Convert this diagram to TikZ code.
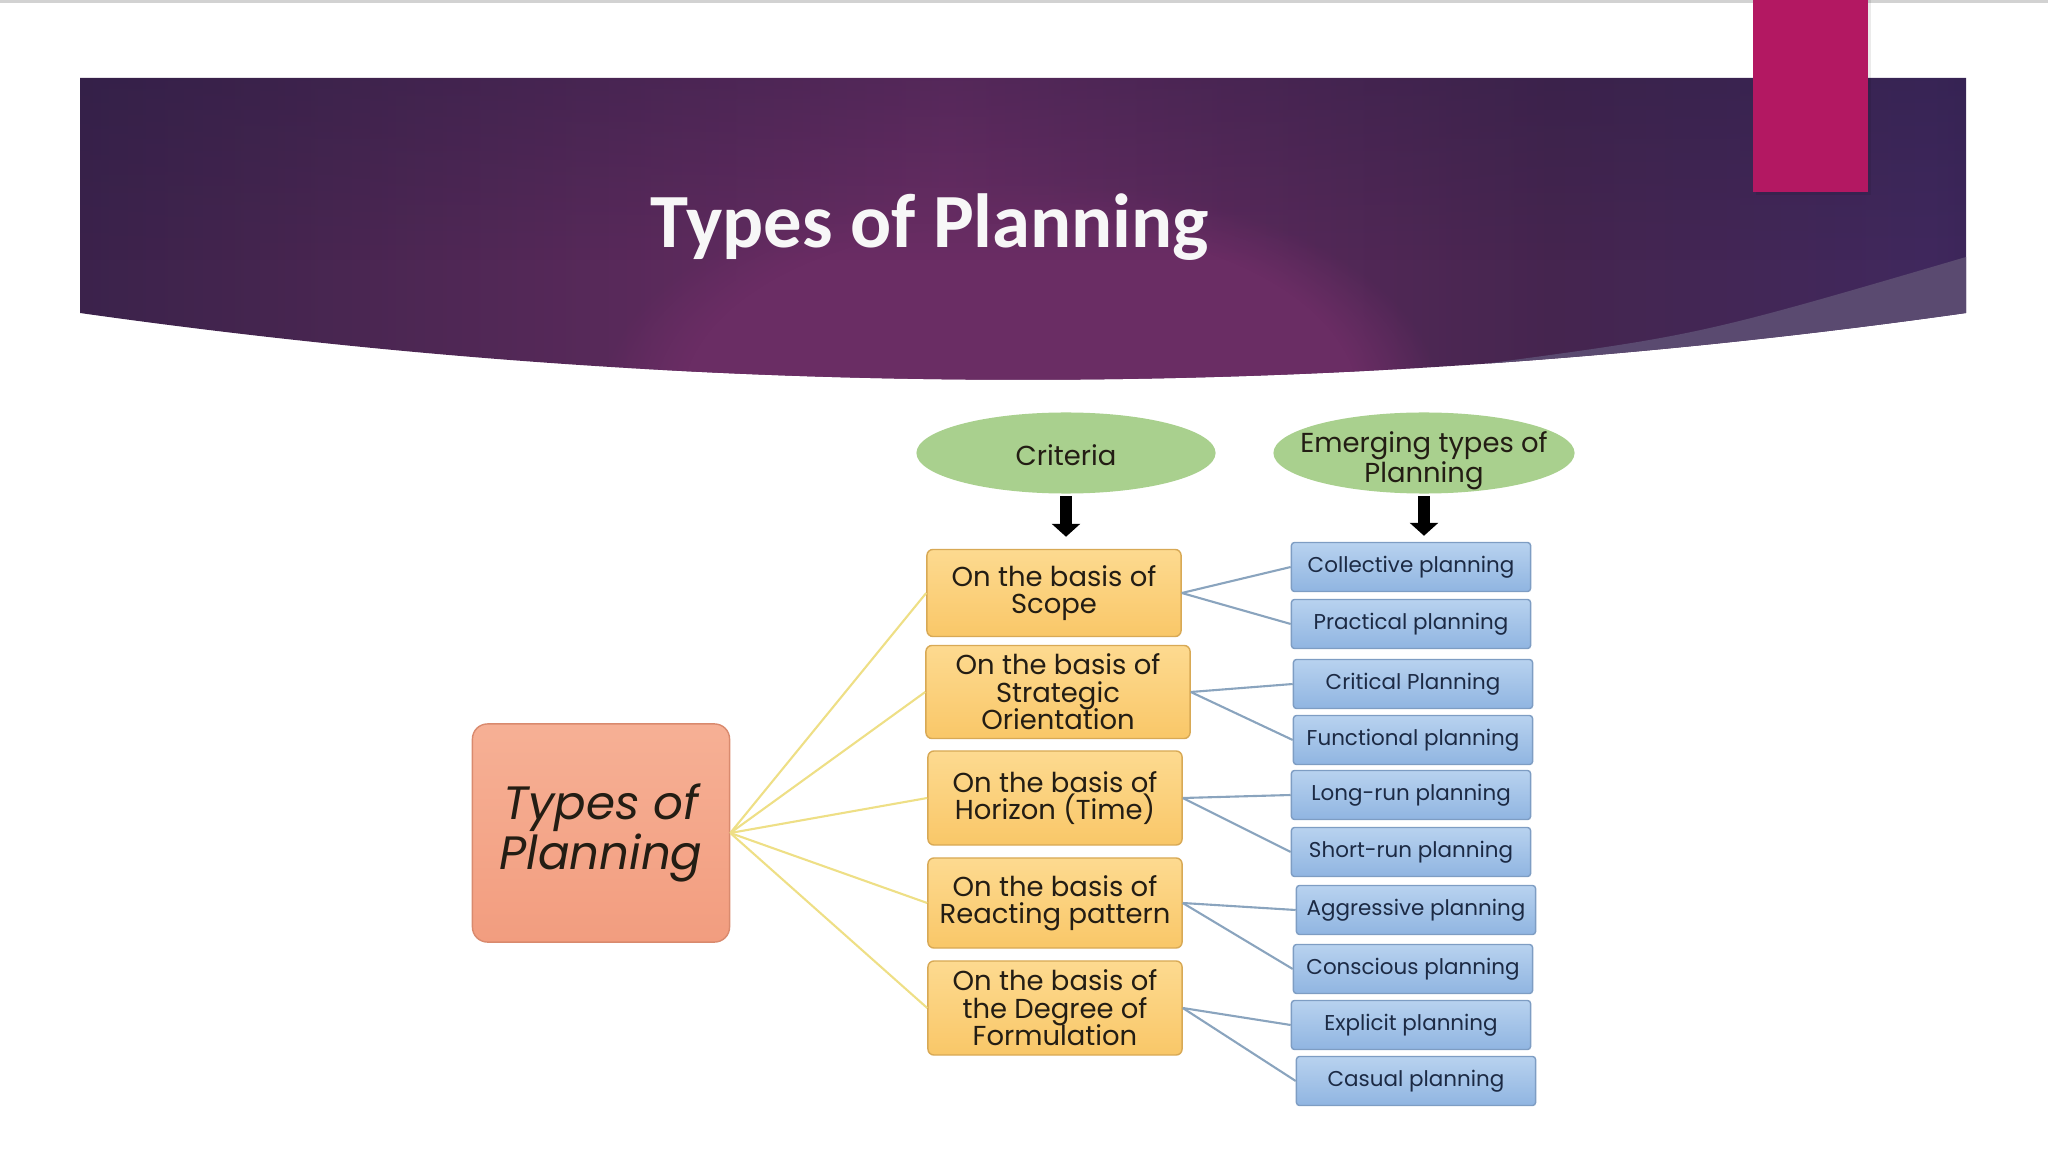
\documentclass[tikz,border=0pt]{standalone}
\usepackage{fontspec}
\setmainfont{Poppins}
\newfontfamily\titlefont{Carlito}
\usetikzlibrary{arrows.meta,shapes.geometric,fadings}

\definecolor{bandark}{HTML}{251C43}
\definecolor{banmid}{HTML}{45254F}
\definecolor{banhot}{HTML}{6A2D64}
\definecolor{banblue}{HTML}{40285D}
\definecolor{bansheen}{HTML}{5A4A70}
\definecolor{pinkbar}{HTML}{B31862}
\definecolor{greenfill}{HTML}{A9D08E}
\definecolor{salmontop}{HTML}{F6B095}
\definecolor{salmonbot}{HTML}{F29D7F}
\definecolor{salmonline}{HTML}{D98A6E}
\definecolor{orangetop}{HTML}{FDDA90}
\definecolor{orangebot}{HTML}{F9C768}
\definecolor{orangeline}{HTML}{D8A955}
\definecolor{bluetop}{HTML}{B8D2EF}
\definecolor{bluebot}{HTML}{90B5E1}
\definecolor{blueline}{HTML}{7E9DC3}
\definecolor{yellowline}{HTML}{EEDF86}
\definecolor{slateline}{HTML}{8AA4BE}
\definecolor{darktext}{HTML}{231D14}
\definecolor{navytext}{HTML}{1C2A44}

\newcommand\tightlines{\setlength{\lineskiplimit}{-20pt}}

\pgfdeclarehorizontalshading{bannershade}{100bp}{color(0bp)=(bandark); color(14bp)=(bandark); color(30bp)=(banmid); color(48bp)=(banhot); color(64bp)=(banmid); color(74bp)=(banblue); color(86bp)=(bandark); color(100bp)=(bandark)}

\tikzset{
  titletext/.style={text=white!94!gray, font=\titlefont\bfseries\fontsize{21.8}{26}\selectfont},
  rootbox/.style={draw=salmonline, top color=salmontop, bottom color=salmonbot,
    rounded corners=0.15cm, minimum width=2.57cm, minimum height=2.18cm,
    align=center, text=darktext, font=\itshape\fontsize{13.3}{14}\selectfont\tightlines},
  headoval/.style={ellipse, fill=greenfill, minimum width=2.99cm, minimum height=0.81cm,
    inner sep=0pt},
  ovaltext/.style={inner sep=0pt, align=center, text=darktext,
    font=\fontsize{7.8}{8.6}\selectfont\tightlines},
  basisbox/.style={draw=orangeline, top color=orangetop, bottom color=orangebot,
    rounded corners=0.06cm, minimum width=2.54cm, inner sep=0pt, align=center,
    text=darktext, font=\fontsize{7.8}{7.8}\selectfont\tightlines},
  typebox/.style={draw=blueline, top color=bluetop, bottom color=bluebot,
    rounded corners=0.03cm, minimum width=2.39cm, minimum height=0.49cm,
    inner sep=0pt, text=navytext, font=\fontsize{6.1}{7}\selectfont},
  yline/.style={draw=yellowline, line width=0.6pt},
  bline/.style={draw=slateline, line width=0.6pt},
  downarrow/.style={black, line width=3.4pt, -{Triangle[length=1.3mm, width=2.8mm]}}
}

\begin{document}
\begin{tikzpicture}[x=0.01cm, y=-0.01cm]
  \useasboundingbox (0,0) rectangle (2048,1152);
  % top rule
  \draw[gray!35, line width=1pt] (0,1) -- (2048,1);
  % banner
  \shade[shading=bannershade] (80,78) -- (1966,78) -- (1966,313)
    .. controls (1337,402) and (709,402) .. (80,313) -- cycle;
  \begin{scope}
    \clip (80,78) -- (1966,78) -- (1966,313)
      .. controls (1337,402) and (709,402) .. (80,313) -- cycle;
    \fill[banhot, path fading=circle with fuzzy edge 20 percent] (1020,400) ellipse (420 and 220);
    \fill[bandark, opacity=0.3, path fading=south] (80,78) rectangle (1966,260);
    \fill[bansheen] (1476,365) .. controls (1700,335) .. (1966,257)
      -- (2010,257) -- (2010,450) -- (1476,450) -- cycle;
  \end{scope}
  % pink bar
  \fill[black, opacity=0.08] (1756,0) rectangle (1871,195);
  \fill[pinkbar] (1753,0) rectangle (1868,192);
  % title
  \node[titletext, anchor=base] (title) at (930,248) {Types of Planning};

  % root
  \node[rootbox] (root) at (601,833) {Types of\\Planning};

  % criteria column
  \node[headoval] (crit) at (1066,453) {};
  \node[ovaltext] (crittext) at (1066,455) {Criteria};
  \node[basisbox, minimum height=0.87cm] (scope) at (1054,593) {On the basis of\\Scope};
  \node[basisbox, minimum width=2.64cm, minimum height=0.93cm] (strategic) at (1058,692) {On the basis of\\Strategic\\Orientation};
  \node[basisbox, minimum height=0.94cm] (horizon) at (1055,798) {On the basis of\\Horizon (Time)};
  \node[basisbox, minimum height=0.90cm] (reacting) at (1055,903) {On the basis of\\Reacting pattern};
  \node[basisbox, minimum height=0.94cm] (degree) at (1055,1008) {On the basis of\\the Degree of\\Formulation};

  % emerging column
  \node[headoval, minimum width=3.01cm] (emerging) at (1424,453) {};
  \node[ovaltext] (emergingtext) at (1424,461) {Emerging types of\\Planning};
  \node[typebox] (collective) at (1411,567) {Collective planning};
  \node[typebox] (practical) at (1411,624) {Practical planning};
  \node[typebox] (critical) at (1413,684) {Critical Planning};
  \node[typebox] (functional) at (1413,740) {Functional planning};
  \node[typebox] (longrun) at (1411,795) {Long-run planning};
  \node[typebox] (shortrun) at (1411,852) {Short-run planning};
  \node[typebox] (aggressive) at (1416,910) {Aggressive planning};
  \node[typebox] (conscious) at (1413,969) {Conscious planning};
  \node[typebox] (explicit) at (1411,1025) {Explicit planning};
  \node[typebox] (casual) at (1416,1081) {Casual planning};

  % arrows
  \draw[downarrow, shorten <=0.02cm, shorten >=0.12cm] (crit.south) -- (crit.south |- scope.north);
  \draw[downarrow, shorten <=0.02cm, shorten >=0.06cm] (emerging.south) -- (emerging.south |- collective.north);

  % connectors
  \foreach \b in {scope,strategic,horizon,reacting,degree}
    \draw[yline] (root.east) -- (\b.west);
  \foreach \a/\b/\c in {scope/collective/practical, strategic/critical/functional,
      horizon/longrun/shortrun, reacting/aggressive/conscious, degree/explicit/casual} {
    \draw[bline] (\a.east) -- (\b.west);
    \draw[bline] (\a.east) -- (\c.west);
  }
\end{tikzpicture}
\end{document}
